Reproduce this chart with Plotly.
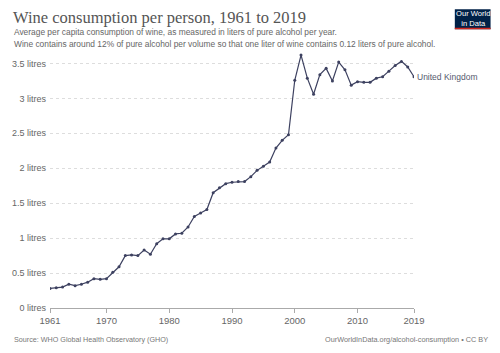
import plotly.graph_objects as go

years = list(range(1961, 2020))
uk_wine = [0.28, 0.29, 0.30, 0.34, 0.32, 0.34, 0.37, 0.42, 0.41, 0.42,
           0.51, 0.59, 0.75, 0.76, 0.75, 0.83, 0.77, 0.92, 0.99, 0.99,
           1.06, 1.07, 1.16, 1.31, 1.36, 1.41, 1.65, 1.72, 1.78, 1.80,
           1.81, 1.81, 1.88, 1.97, 2.03, 2.09, 2.29, 2.40, 2.48, 3.26,
           3.62, 3.29, 3.06, 3.34, 3.43, 3.25, 3.52, 3.41, 3.19, 3.24,
           3.23, 3.23, 3.29, 3.31, 3.39, 3.47, 3.53, 3.45, 3.31]
y_ticks = [0, 0.5, 1, 1.5, 2, 2.5, 3, 3.5]
y_tick_labels = ["0 litres", "0.5 litres", "1 litres", "1.5 litres", "2 litres",
                 "2.5 litres", "3 litres", "3.5 litres"]
x_ticks = [1961, 1970, 1980, 1990, 2000, 2010, 2019]
series_name = "United Kingdom"

W, H = 500, 353
L, R, T, B = 47.4, 86.1, 52.8, 44.7
PW, PH = W - L - R, H - T - B

def px(x):
    return (x - L) / PW

def py(y):
    return (H - B - y) / PH

line_color = "#3d4160"

fig = go.Figure()
fig.add_trace(go.Scatter(
    x=years, y=uk_wine, mode="lines+markers",
    line=dict(color=line_color, width=1.2),
    marker=dict(color=line_color, size=3),
    name=series_name, showlegend=False, hoverinfo="x+y",
))

annotations = [
    dict(text="Wine consumption per person, 1961 to 2019", x=px(8), y=py(17.5),
         xanchor="left", yanchor="middle",
         font=dict(family="Liberation Serif, DejaVu Serif, serif", size=16.5, color="#555555")),
    dict(text="Average per capita consumption of wine, as measured in liters of pure alcohol per year.",
         x=px(9), y=py(32), xanchor="left", yanchor="middle",
         font=dict(family="Liberation Sans, Arial, sans-serif", size=8.4, color="#666666")),
    dict(text="Wine contains around 12% of pure alcohol per volume so that one liter of wine contains 0.12 liters of pure alcohol.",
         x=px(9), y=py(43.5), xanchor="left", yanchor="middle",
         font=dict(family="Liberation Sans, Arial, sans-serif", size=8.4, color="#666666")),
    dict(text="Source: WHO Global Health Observatory (GHO)", x=px(9), y=py(340),
         xanchor="left", yanchor="middle",
         font=dict(family="Liberation Sans, Arial, sans-serif", size=7.2, color="#777777")),
    dict(text="OurWorldInData.org/alcohol-consumption • CC BY", x=px(490), y=py(340),
         xanchor="right", yanchor="middle",
         font=dict(family="Liberation Sans, Arial, sans-serif", size=7.3, color="#777777")),
    dict(text=series_name, x=years[-1], y=uk_wine[-1], xref="x", yref="y",
         xanchor="left", yanchor="middle", xshift=1,
         font=dict(family="Liberation Sans, Arial, sans-serif", size=8.5, color="#555a6e")),
    dict(text="Our World<br>in Data", x=px(473), y=py(18), xanchor="center", yanchor="middle",
         font=dict(family="Liberation Sans, Arial, sans-serif", size=7.6, color="#ffffff")),
]
for a in annotations:
    a.setdefault("xref", "paper")
    a.setdefault("yref", "paper")
    a["showarrow"] = False

shapes = [
    dict(type="rect", xref="paper", yref="paper", x0=px(455), x1=px(491), y0=py(29), y1=py(9),
         fillcolor="#002147", line=dict(width=0), layer="below"),
    dict(type="rect", xref="paper", yref="paper", x0=px(455), x1=px(491), y0=py(29), y1=py(27.5),
         fillcolor="#ce261e", line=dict(width=0), layer="below"),
]

fig.update_layout(
    width=W, height=H, margin=dict(l=L, r=R, t=T, b=B, pad=0),
    paper_bgcolor="white", plot_bgcolor="white",
    annotations=annotations, shapes=shapes,
    font=dict(family="Liberation Sans, Arial, sans-serif", color="#666666"),
    xaxis=dict(range=[1961, 2019], tickvals=x_ticks, ticks="outside", ticklen=4,
               tickcolor="#aaaaaa", showline=True, linecolor="#aaaaaa", linewidth=1,
               showgrid=False, zeroline=False, tickfont=dict(size=9.5, color="#666666")),
    yaxis=dict(range=[0, 3.65], tickvals=y_ticks, ticktext=y_tick_labels,
               showgrid=True, gridcolor="#dddddd", griddash="dot", gridwidth=1,
               zeroline=False, showline=False, ticks="", ticklabelstandoff=3,
               tickfont=dict(size=9, color="#666666")),
)

fig.write_html("out.html")
